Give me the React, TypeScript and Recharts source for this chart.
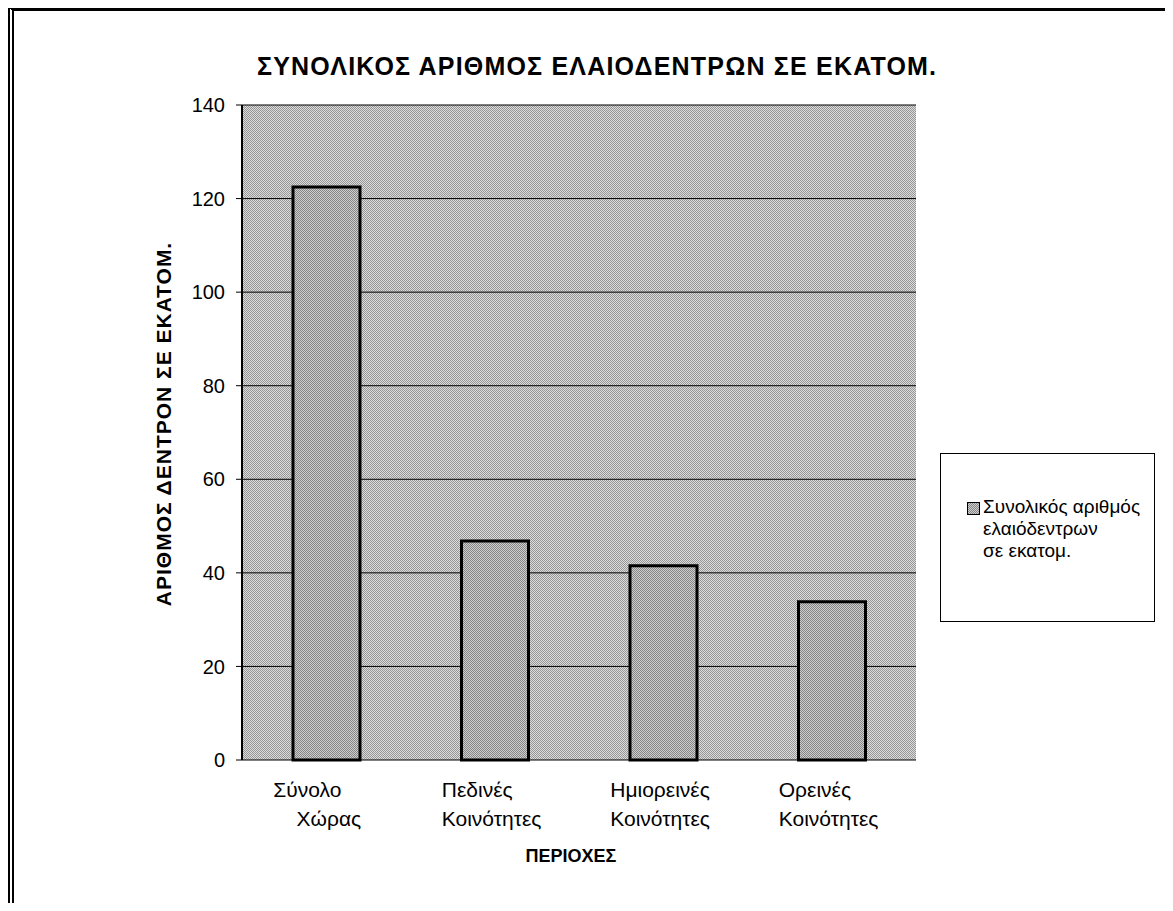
import React from 'react';
import { BarChart, Bar, XAxis, YAxis, CartesianGrid, Legend, Label } from 'recharts';

// region names, first and second line of each tick label
const regionTop = ['Σύνολο', 'Πεδινές', 'Ημιορεινές', 'Ορεινές'];
const regionBottom = ['\u00a0\u00a0\u00a0\u00a0Χώρας', 'Κοινότητες', 'Κοινότητες', 'Κοινότητες'];
// olive trees, millions
const treeCounts = [122.5, 46.8, 41.5, 33.8];
const yTicks = [0, 20, 40, 60, 80, 100, 120, 140];
const edgeTicks = [0, 1, 2, 3, 4];

const chartTitle = 'ΣΥΝΟΛΙΚΟΣ ΑΡΙΘΜΟΣ ΕΛΑΙΟΔΕΝΤΡΩΝ ΣΕ ΕΚΑΤΟΜ.';
const yTitle = 'ΑΡΙΘΜΟΣ ΔΕΝΤΡΟΝ ΣΕ ΕΚΑΤΟΜ.';
const xTitle = 'ΠΕΡΙΟΧΕΣ';
const seriesName = 'Συνολικός αριθμός\nελαιόδεντρων\nσε εκατομ.';

const data = regionTop.map((top, i) => ({
  name: top + '\n' + regionBottom[i],
  value: treeCounts[i],
}));

const FONT = '"Liberation Sans", Arial, sans-serif';

const RegionTick = (props: any) => {
  const { x, y, payload } = props;
  const [a, b] = String(payload.value).split('\n');
  return (
    <g>
      <text x={x - 53} y={y + 37} fontSize={21} fontFamily={FONT} fill="#000">{a}</text>
      <text x={x - 53} y={y + 66} fontSize={21} fontFamily={FONT} fill="#000">{b}</text>
    </g>
  );
};

const LegendBox = () => (
  <div
    style={{
      width: 215,
      height: 169,
      boxSizing: 'border-box',
      border: '1px solid #000',
      background: '#fff',
      position: 'relative',
      fontFamily: FONT,
      fontSize: 19,
      color: '#000',
    }}
  >
    <svg width={13} height={13} style={{ position: 'absolute', left: 26, top: 48 }}>
      <rect x={0.5} y={0.5} width={12} height={12} fill="url(#barPat)" stroke="#000" strokeWidth={1} />
    </svg>
    <div style={{ position: 'absolute', left: 42, top: 42, lineHeight: '22px', whiteSpace: 'pre-line' }}>
      {seriesName}
    </div>
  </div>
);

export default function App() {
  return (
    <div style={{ position: 'relative', width: 1165, height: 895, background: '#fff' }}>
      <div
        style={{
          position: 'absolute',
          left: 249,
          top: 46,
          fontFamily: FONT,
          fontWeight: 'bold',
          fontSize: 25,
          letterSpacing: 1.2,
          lineHeight: '25px',
          whiteSpace: 'nowrap',
          color: '#000',
          zIndex: 2,
        }}
      >
        {chartTitle}
      </div>
      <BarChart
        width={1165}
        height={895}
        data={data}
        margin={{ top: 97, right: 257, bottom: 83, left: 0 }}
        barCategoryGap={0}
      >
        <defs>
          <pattern id="bgPat" patternUnits="userSpaceOnUse" width={2} height={2}>
            <rect x={0} y={0} width={2} height={2} fill="#dcdcdc" />
            <rect x={0} y={0} width={1} height={1} fill="#969696" />
            <rect x={1} y={1} width={1} height={1} fill="#969696" />
          </pattern>
          <pattern id="barPat" patternUnits="userSpaceOnUse" width={2} height={2}>
            <rect x={0} y={0} width={2} height={2} fill="#cecece" />
            <rect x={0} y={0} width={1} height={1} fill="#868686" />
            <rect x={1} y={1} width={1} height={1} fill="#868686" />
          </pattern>
        </defs>
        <CartesianGrid vertical={false} stroke="#000" strokeWidth={1} fill="url(#bgPat)" fillOpacity={1} />
        <XAxis
          xAxisId="edge"
          type="number"
          domain={[0, 4]}
          ticks={edgeTicks}
          allowDataOverflow
          tick={false}
          tickSize={5}
          height={0}
          axisLine={{ stroke: '#000', strokeWidth: 2 }}
          tickLine={{ stroke: '#000', strokeWidth: 1 }}
        />
        <XAxis
          dataKey="name"
          height={60}
          axisLine={false}
          tickLine={false}
          tickSize={0}
          tickMargin={0}
          interval={0}
          tick={<RegionTick />}
        >
          <Label
            content={() => (
              <text x={563} y={854} textAnchor="middle" fontSize={18} fontWeight="bold" fontFamily={FONT} fill="#000">
                {xTitle}
              </text>
            )}
          />
        </XAxis>
        <YAxis
          width={234}
          domain={[0, 140]}
          ticks={yTicks}
          interval={0}
          tickSize={6}
          tickMargin={11}
          axisLine={{ stroke: '#000', strokeWidth: 2 }}
          tickLine={{ stroke: '#000', strokeWidth: 1 }}
          tick={{ fill: '#000', fontSize: 20, fontFamily: FONT }}
        >
          <Label
            content={() => (
              <text
                x={155}
                y={416}
                transform="rotate(-90 155 416)"
                textAnchor="middle"
                dominantBaseline="central"
                fontSize={21}
                letterSpacing={1}
                fontWeight="bold"
                fontFamily={FONT}
                fill="#000"
              >
                {yTitle}
              </text>
            )}
          />
        </YAxis>
        <YAxis
          yAxisId="right"
          orientation="right"
          width={0}
          domain={[0, 140]}
          tick={false}
          tickLine={false}
          axisLine={{ stroke: '#000', strokeWidth: 1 }}
        />
        <Legend
          layout="horizontal"
          verticalAlign="middle"
          align="center"
          content={() => <LegendBox />}
          wrapperStyle={{ left: 932, top: 445, width: 215, height: 169 }}
        />
        <Bar
          dataKey="value"
          name={seriesName}
          barSize={67}
          fill="url(#barPat)"
          stroke="#000"
          strokeWidth={3}
          isAnimationActive={false}
        />
      </BarChart>
      <div
        style={{
          position: 'absolute',
          left: 0,
          top: 0,
          width: 1165,
          height: 895,
          boxSizing: 'border-box',
          borderTop: '3px solid #000',
          borderLeft: '6px double #000',
          borderRight: '1px solid #000',
          pointerEvents: 'none',
        }}
      />
    </div>
  );
}
